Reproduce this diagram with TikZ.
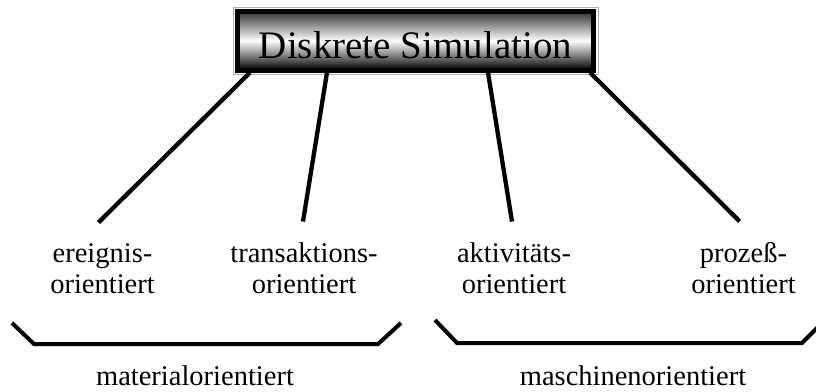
\documentclass[tikz,border=0pt]{standalone}
\usepackage{fontspec}
\setmainfont{Liberation Serif}
\usetikzlibrary{calc}

\begin{document}
\begin{tikzpicture}[x=1pt, y=-1pt,
  kind/.style={align=center, inner sep=0pt, anchor=south, font=\fontsize{28.5}{31}\selectfont},
  group/.style={anchor=base, inner sep=0pt, font=\fontsize{28.5}{31}\selectfont},
  edge/.style={line width=4.3pt},
  brace/.style={line width=4pt, line join=miter}]
\useasboundingbox (0,0) rectangle (816,391);

\node[draw=black, line width=5pt, top color=black!80, bottom color=black, middle color=white,
  minimum width=356pt, minimum height=58.5pt, inner sep=0pt, text height=34.5pt, text depth=0pt,
  font=\fontsize{39}{40}\selectfont] (title) at (415.5,40.75) {Diskrete Simulation};
\draw[gray!60, line width=1pt] ($(title.north west)+(-2,-2)$) rectangle ($(title.south east)+(2,2)$);

\node[kind] (ereignis) at (102.5,294) {ereignis-\\orientiert};
\node[kind] (transaktions) at (304,294) {transaktions-\\orientiert};
\node[kind] (aktivitaets) at (514,294) {aktivitäts-\\orientiert};
\node[kind] (prozess) at (743.5,294) {prozeß-\\orientiert};

\draw[edge] ([xshift=15pt]title.south west) -- ([xshift=-4pt, yshift=21pt]ereignis.north);
\draw[edge] ([xshift=92pt]title.south west) -- ([xshift=-1pt, yshift=21pt]transaktions.north);
\draw[edge] ([xshift=253pt]title.south west) -- ([xshift=-2pt, yshift=21pt]aktivitaets.north);
\draw[edge] ([xshift=355pt]title.south west) -- ([xshift=-4pt, yshift=21pt]prozess.north);

\draw[brace] (12,323) -- (34,344) -- (378,344) -- (401,323);
\draw[brace] (435,320) -- (457,343) -- (802,343) -- (818,327);

\node[group] (material) at (195,385) {materialorientiert};
\node[group] (maschinen) at (633,385) {maschinenorientiert};
\end{tikzpicture}
\end{document}
